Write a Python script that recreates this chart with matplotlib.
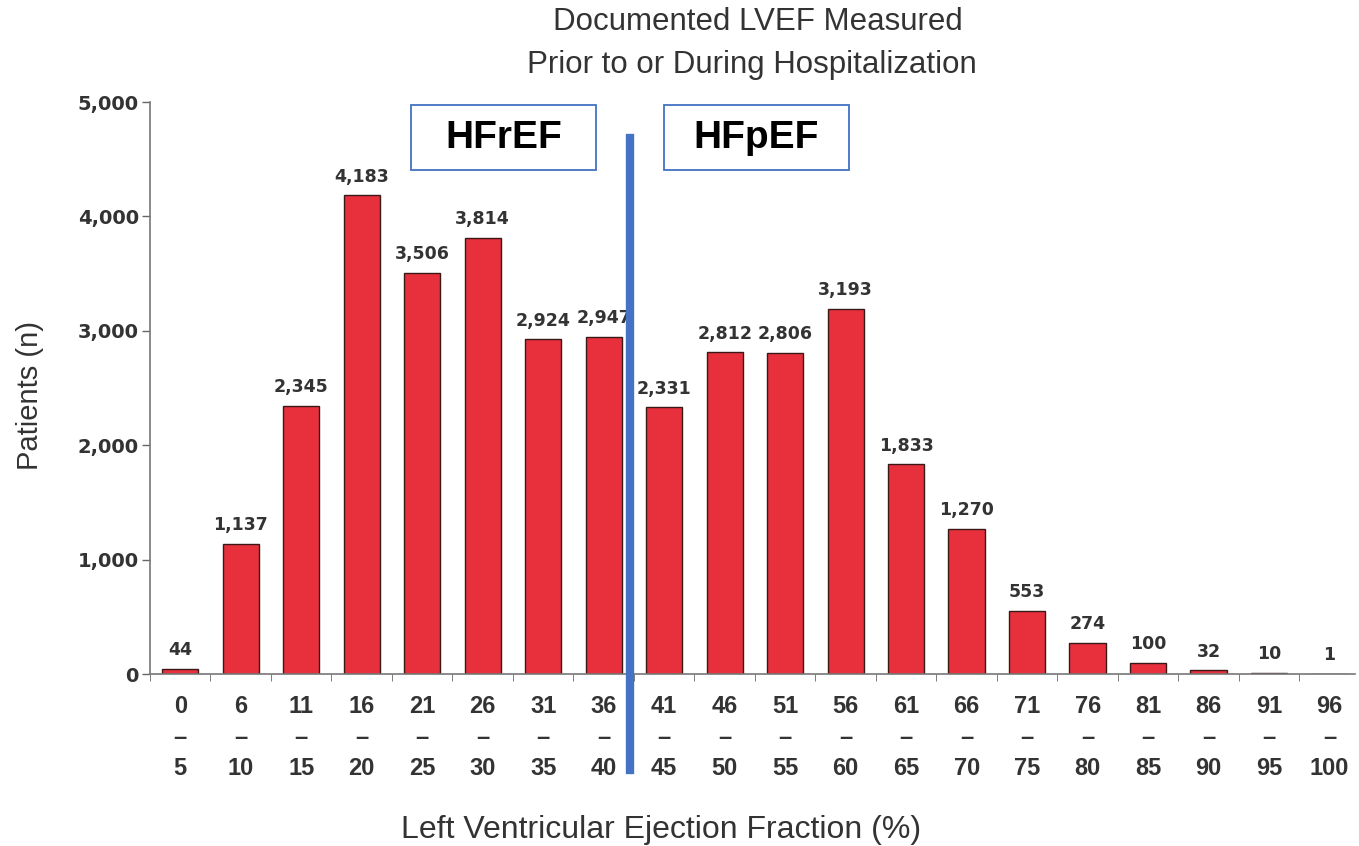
import matplotlib
matplotlib.use("Agg")
import matplotlib.pyplot as plt
from matplotlib.patches import Rectangle

plt.rcParams['font.family'] = ['Liberation Sans', 'DejaVu Sans']

range_lo = [0, 6, 11, 16, 21, 26, 31, 36, 41, 46, 51, 56, 61, 66, 71, 76, 81, 86, 91, 96]
range_hi = [5, 10, 15, 20, 25, 30, 35, 40, 45, 50, 55, 60, 65, 70, 75, 80, 85, 90, 95, 100]
patients = [44, 1137, 2345, 4183, 3506, 3814, 2924, 2947, 2331, 2812, 2806, 3193,
            1833, 1270, 553, 274, 100, 32, 10, 1]
bar_labels = ["44", "1,137", "2,345", "4,183", "3,506", "3,814", "2,924", "2,947",
              "2,331", "2,812", "2,806", "3,193", "1,833", "1,270", "553", "274",
              "100", "32", "10", "1"]
yticks = [0, 1000, 2000, 3000, 4000, 5000]
ytick_labels = ["0", "1,000", "2,000", "3,000", "4,000", "5,000"]

W, H = 1359, 846
fig = plt.figure(figsize=(W / 100, H / 100), dpi=100)
fig.patch.set_facecolor('white')
ax = fig.add_axes([150 / W, (H - 674) / H, (1355 - 150) / W, (674 - 102) / H])

x = list(range(len(patients)))
ax.bar(x, patients, width=0.6, color='#E8303C', edgecolor='#3a1818', linewidth=1.0, zorder=2)

for xi, v, lab in zip(x, patients, bar_labels):
    ax.annotate(lab, (xi, v), xytext=(0, 7), textcoords='offset points',
                ha='center', va='bottom', fontsize=12.5, fontweight='bold',
                color='#333333', family='DejaVu Sans')

ax.set_xlim(-0.46, 19.42)
ax.set_ylim(0, 5000)
ax.set_yticks(yticks)
ax.set_yticklabels(ytick_labels, fontsize=14, fontweight='bold', color='#333333',
                   family='DejaVu Sans')
ax.tick_params(axis='y', length=6, width=1, color='#666666', pad=2)

ax.set_xticks(x)
ax.set_xticklabels([f"{a}\n\u2013\n{b}" for a, b in zip(range_lo, range_hi)],
                   fontsize=17, fontweight='bold', color='#333333', linespacing=1.45)
ax.tick_params(axis='x', length=0, pad=15)
ax.set_xticks([i + 0.5 for i in range(-1, 19)], minor=True)
ax.tick_params(axis='x', which='minor', length=5, color='#666666')

for s in ['top', 'right']:
    ax.spines[s].set_visible(False)
for s in ['left', 'bottom']:
    ax.spines[s].set_color('#777777')
    ax.spines[s].set_linewidth(1.2)

fig.text(30 / W, 1 - 395 / H, "Patients (n)", rotation=90, ha='center', va='center',
         fontsize=21, color='#333333')
fig.text(661 / W, 1 - 830 / H, "Left Ventricular Ejection Fraction (%)",
         ha='center', va='center', fontsize=23, color='#333333')

fig.text(758 / W, 1 - 22 / H, "Documented LVEF Measured", ha='center', va='center',
         fontsize=22.5, color='#333333')
fig.text(752 / W, 1 - 65 / H, "Prior to or During Hospitalization", ha='center', va='center',
         fontsize=22.5, color='#333333')

# divider line between HFrEF and HFpEF
ax.axvline(7.43, ymin=(674 - 770) / 572, ymax=(674 - 138) / 572, color='#4472C4',
           linewidth=6, clip_on=False, zorder=5)

# category boxes
for x0, x1, label in [(411, 596, "HFrEF"), (664, 849, "HFpEF")]:
    rect = Rectangle((x0 / W, (H - 170) / H), (x1 - x0) / W, 65 / H,
                     transform=fig.transFigure, facecolor='white', edgecolor='#4472C4',
                     linewidth=1.3)
    fig.patches.append(rect)
    fig.text((x0 + x1) / 2 / W, 1 - 138 / H, label, ha='center', va='center',
             fontsize=28, fontweight='bold', color='black')

fig.savefig("out.png", dpi=100)
